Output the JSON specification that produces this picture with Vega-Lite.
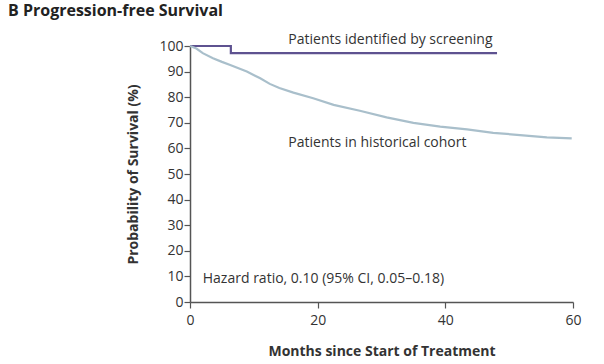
{
  "$schema": "https://vega.github.io/schema/vega-lite/v6.json",
  "width": 383,
  "height": 256,
  "autosize": {"type": "none"},
  "padding": {"left": 190, "top": 46, "right": 31, "bottom": 62},
  "background": "white",
  "config": {
    "view": {"stroke": null},
    "font": "Open Sans",
    "axis": {"labelFont": "Open Sans", "titleFont": "Open Sans", "labelColor": "#333", "titleColor": "#333", "domainColor": "#555", "tickColor": "#555", "domainWidth": 1.5, "tickWidth": 1.2, "grid": false, "labelOverlap": false, "labelFlush": false}
  },
  "title": {
    "text": "B  Progression-free Survival",
    "anchor": "start",
    "frame": "group",
    "orient": "top",
    "baseline": "middle",
    "fontSize": 16,
    "fontWeight": "bold",
    "color": "#222",
    "font": "Open Sans",
    "dx": -182,
    "dy": -6,
    "offset": 0
  },
  "datasets": {
    "curves": [
      {"group": "screening", "month": 0, "pct": 100},
      {"group": "screening", "month": 6.4, "pct": 100},
      {"group": "screening", "month": 6.4, "pct": 97.2},
      {"group": "screening", "month": 48.1, "pct": 97.2},
      {"group": "historical", "month": 0, "pct": 100},
      {"group": "historical", "month": 1, "pct": 99},
      {"group": "historical", "month": 2, "pct": 97.2},
      {"group": "historical", "month": 3.6, "pct": 95.2},
      {"group": "historical", "month": 5, "pct": 93.8},
      {"group": "historical", "month": 6.3, "pct": 92.6},
      {"group": "historical", "month": 8.9, "pct": 90.0},
      {"group": "historical", "month": 11, "pct": 87.4},
      {"group": "historical", "month": 12.5, "pct": 85.2},
      {"group": "historical", "month": 14, "pct": 83.6},
      {"group": "historical", "month": 16.2, "pct": 81.8},
      {"group": "historical", "month": 19.3, "pct": 79.6},
      {"group": "historical", "month": 22.5, "pct": 77.0},
      {"group": "historical", "month": 26.6, "pct": 74.7},
      {"group": "historical", "month": 30.8, "pct": 72.1},
      {"group": "historical", "month": 35, "pct": 70.0},
      {"group": "historical", "month": 39.2, "pct": 68.5},
      {"group": "historical", "month": 43.4, "pct": 67.4},
      {"group": "historical", "month": 47.5, "pct": 66.1},
      {"group": "historical", "month": 51.7, "pct": 65.2},
      {"group": "historical", "month": 55.9, "pct": 64.3},
      {"group": "historical", "month": 59.8, "pct": 63.9}
    ],
    "labels": [
      {"label": "Patients identified by screening", "month": 15.4, "pct": 102.3},
      {"label": "Patients in historical cohort", "month": 15.4, "pct": 62.1},
      {"label": "Hazard ratio, 0.10 (95% CI, 0.05–0.18)", "month": 2.0, "pct": 9.0}
    ]
  },
  "layer": [
    {
      "data": {"name": "curves"},
      "mark": {"type": "line", "strokeWidth": 2.2, "clip": false},
      "encoding": {
        "x": {"field": "month", "type": "quantitative", "scale": {"domain": [0, 60]},
              "axis": {"values": [0, 20, 40, 60], "title": "Months since Start of Treatment", "titleFontSize": 14, "titleFontWeight": "bold", "titlePadding": 17, "labelFontSize": 14, "tickSize": 6, "labelPadding": 5}},
        "y": {"field": "pct", "type": "quantitative", "scale": {"domain": [0, 100]},
              "axis": {"values": [0, 10, 20, 30, 40, 50, 60, 70, 80, 90, 100], "title": "Probability of Survival (%)", "titleFontSize": 14, "titleFontWeight": "bold", "titlePadding": 18, "labelFontSize": 14, "tickSize": 6, "labelPadding": 1}},
        "color": {"field": "group", "type": "nominal", "scale": {"domain": ["screening", "historical"], "range": ["#5e5290", "#a9bfcb"]}, "legend": null},
        "order": {"field": "month", "type": "quantitative"}
      }
    },
    {
      "data": {"name": "labels"},
      "mark": {"type": "text", "align": "left", "baseline": "middle", "fontSize": 14, "color": "#333", "font": "Open Sans", "clip": false},
      "encoding": {
        "x": {"field": "month", "type": "quantitative",
              "axis": {"values": [0, 20, 40, 60], "title": "Months since Start of Treatment", "titleFontSize": 14, "titleFontWeight": "bold", "titlePadding": 17, "labelFontSize": 14, "tickSize": 6, "labelPadding": 5}},
        "y": {"field": "pct", "type": "quantitative",
              "axis": {"values": [0, 10, 20, 30, 40, 50, 60, 70, 80, 90, 100], "title": "Probability of Survival (%)", "titleFontSize": 14, "titleFontWeight": "bold", "titlePadding": 18, "labelFontSize": 14, "tickSize": 6, "labelPadding": 1}},
        "text": {"field": "label"}
      }
    }
  ]
}
